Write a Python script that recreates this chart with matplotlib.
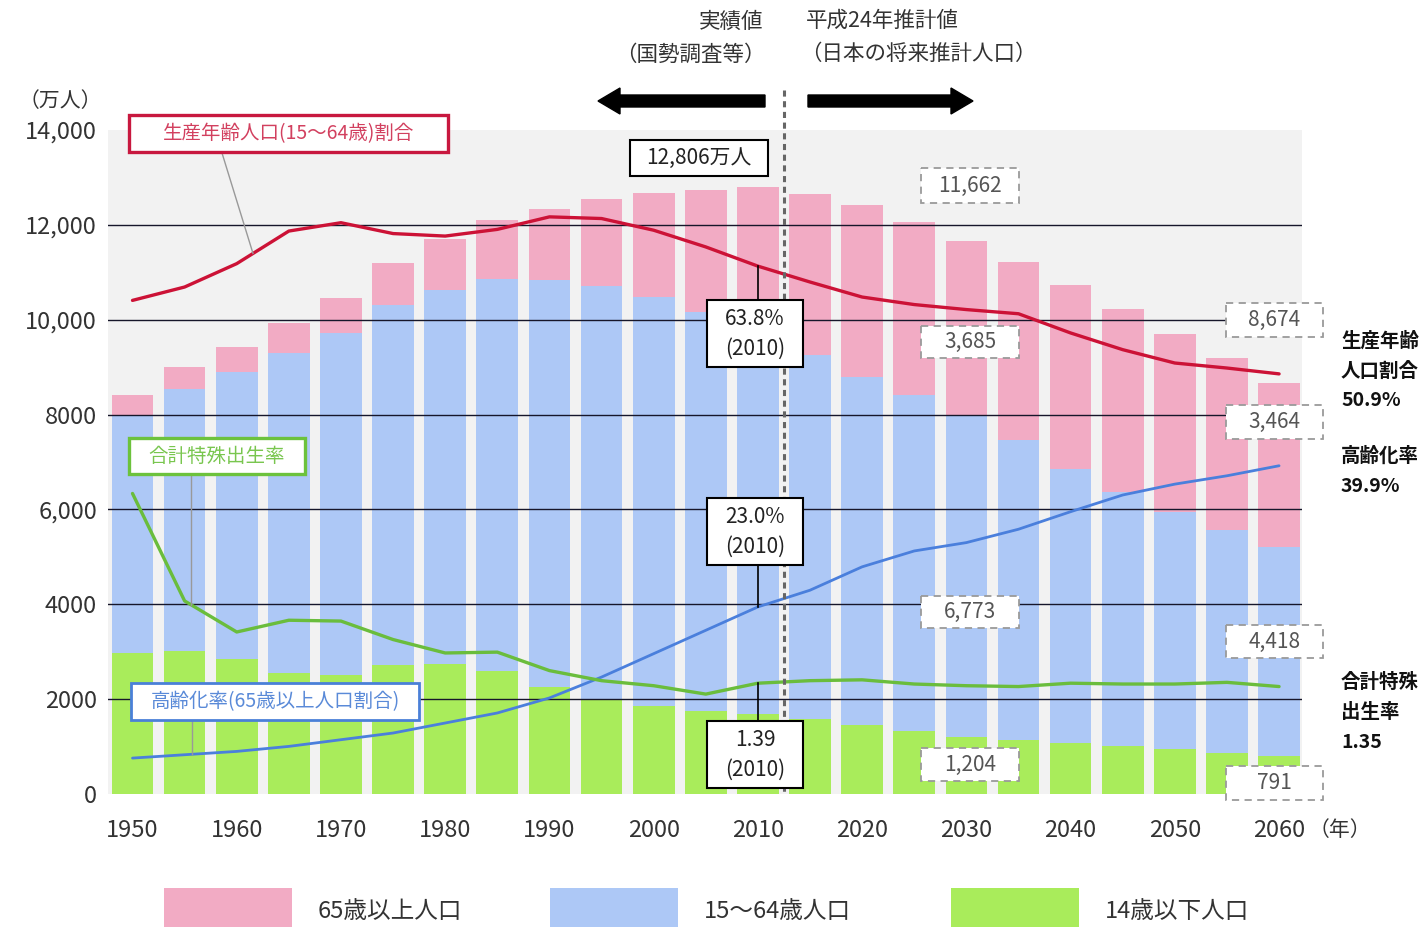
import matplotlib.pyplot as plt
import matplotlib.patches as mpatches
import numpy as np

plt.rcParams['font.family'] = ['Noto Sans CJK JP', 'DejaVu Sans']

# 人口（万人）
years = list(range(1950, 2061, 5))
pop_65 = [416, 479, 540, 624, 739, 887, 1065, 1247, 1493, 1828, 2204, 2576, 2948,
          3395, 3612, 3657, 3685, 3741, 3868, 3856, 3768, 3626, 3464]
pop_15_64 = [5017, 5517, 6047, 6744, 7212, 7581, 7883, 8251, 8590, 8716, 8622, 8409, 8173,
             7682, 7341, 7085, 6773, 6343, 5787, 5353, 5001, 4706, 4418]
pop_0_14 = [2979, 3012, 2843, 2553, 2515, 2722, 2751, 2603, 2249, 2001, 1847, 1752, 1685,
            1583, 1457, 1324, 1204, 1129, 1073, 1012, 939, 861, 791]

# 割合（%）と合計特殊出生率
working_ratio = [59.7, 61.3, 64.1, 68.0, 69.0, 67.7, 67.4, 68.2, 69.7, 69.5, 68.1, 66.1, 63.8,
                 61.9, 60.1, 59.2, 58.6, 58.1, 55.8, 53.8, 52.2, 51.6, 50.9]
aging_ratio = [4.9, 5.3, 5.7, 6.3, 7.1, 7.9, 9.1, 10.3, 12.1, 14.6, 17.4, 20.2, 23.0,
               25.0, 27.8, 29.7, 30.7, 32.3, 34.4, 36.4, 37.7, 38.7, 39.9]
fertility = [3.65, 2.37, 2.00, 2.14, 2.13, 1.91, 1.75, 1.76, 1.54, 1.42, 1.36, 1.26, 1.39,
             1.42, 1.43, 1.38, 1.36, 1.35, 1.39, 1.38, 1.38, 1.40, 1.35]

yticks = list(range(0, 14001, 2000))
ytick_labels = ['0', '2000', '4000', '6,000', '8000', '10,000', '12,000', '14,000']
xticks = list(range(1950, 2061, 10))

PINK = '#f2abc4'
BLUE = '#adc8f6'
GREEN = '#a9ec5b'
RED_LINE = '#cc1236'
BLUE_LINE = '#4a7fdc'
GREEN_LINE = '#6abd3c'
TXT = '#333333'

W, H = 1424, 927
fig = plt.figure(figsize=(W / 100, H / 100), dpi=100)
ax = fig.add_axes([108 / W, 1 - 794 / H, 1194 / W, 664 / H])
ax.set_facecolor('#f2f2f2')

bottom_mid = np.array(pop_0_14)
bottom_top = bottom_mid + np.array(pop_15_64)
ax.bar(years, pop_0_14, width=4.0, color=GREEN, zorder=1)
ax.bar(years, pop_15_64, width=4.0, bottom=bottom_mid, color=BLUE, zorder=1)
ax.bar(years, pop_65, width=4.0, bottom=bottom_top, color=PINK, zorder=1)

for v in yticks[1:-1]:
    ax.axhline(v, color='#16162a', lw=1.0, zorder=2)

ax.set_xlim(1947.65, 2062.2)
ax.set_ylim(0, 14000)
ax.set_yticks(yticks)
ax.set_yticklabels(ytick_labels)
ax.set_xticks(xticks)
ax.set_xticklabels([str(x) for x in xticks])
ax.tick_params(axis='y', length=0, pad=8, labelsize=17, labelcolor=TXT)
ax.tick_params(axis='x', length=0, pad=18, labelsize=17, labelcolor=TXT)
for s in ax.spines.values():
    s.set_visible(False)

# 割合の線と出生率の線は目盛なしの別スケール
ax_pct = ax.twinx()
ax_pct.set_ylim(0.6, 80.1)
ax_tfr = ax.twinx()
ax_tfr.set_ylim(0.07, 7.98)
for a in (ax_pct, ax_tfr):
    a.axis('off')

kw = dict(solid_joinstyle='round', solid_capstyle='round', zorder=3)
ax_pct.plot(years, working_ratio, color=RED_LINE, lw=2.4, **kw)
ax_pct.plot(years, aging_ratio, color=BLUE_LINE, lw=2.0, **kw)
ax_tfr.plot(years, fertility, color=GREEN_LINE, lw=2.4, **kw)

# 注記用のレイヤー（ピクセル座標、y は下向き）
lay = fig.add_axes([0, 0, 1, 1], zorder=10)
lay.set_xlim(0, W)
lay.set_ylim(H, 0)
lay.axis('off')


def to_px(axis, x, y):
    dx, dy = axis.transData.transform((x, y))
    return dx, H - dy


def px_to_year(px):
    return ax.transData.inverted().transform((px, 0))[0]


def box(x0, y0, x1, y1, text, dashed=False, ec='black', tc='#222222', fs=15, lw=1.5):
    ls = (0, (4, 3)) if dashed else '-'
    lay.add_patch(mpatches.Rectangle((x0, y0), x1 - x0, y1 - y0, fc='white', ec=ec,
                                     lw=lw, ls=ls, zorder=5))
    lay.text((x0 + x1) / 2, (y0 + y1) / 2, text, ha='center', va='center', fontsize=fs,
             color=tc, linespacing=1.45, zorder=6)


# 実績値／推計値の境界
div_x, _ = to_px(ax, 2012.5, 0)
lay.plot([div_x, div_x], [90, 794], color='#666666', lw=2.2, ls=(0, (2, 1.5)), zorder=2)

lay.add_patch(mpatches.FancyArrow(765, 101, -167, 0, width=12, head_width=26,
                                  head_length=22, length_includes_head=True, color='black'))
lay.add_patch(mpatches.FancyArrow(808, 101, 165, 0, width=12, head_width=26,
                                  head_length=22, length_includes_head=True, color='black'))
lay.text(763, 22, '実績値', ha='right', va='center', fontsize=15.5, color=TXT)
lay.text(766, 55, '（国勢調査等）', ha='right', va='center', fontsize=15.5, color=TXT)
lay.text(806, 21, '平成24年推計値', ha='left', va='center', fontsize=15.5, color=TXT)
lay.text(800, 54, '（日本の将来推計人口）', ha='left', va='center', fontsize=15.5, color=TXT)

lay.text(60, 101, '（万人）', ha='center', va='center', fontsize=15, color=TXT)
lay.text(1340, 830, '（年）', ha='center', va='center', fontsize=15, color=TXT)

# 2010年の値への引き出し線
i2010 = years.index(2010)
px, py = to_px(ax_pct, 2010, working_ratio[i2010])
lay.plot([px, px], [py, 300], color='black', lw=1.2, zorder=4)
px, py = to_px(ax_pct, 2010, aging_ratio[i2010])
lay.plot([px, px], [565, py], color='black', lw=1.2, zorder=4)
px, py = to_px(ax_tfr, 2010, fertility[i2010])
lay.plot([px, px], [py, 721], color='black', lw=1.2, zorder=4)

box(630, 140, 768, 176, f'{bottom_top[i2010] + pop_65[i2010]:,}万人')
box(707, 300, 803, 367, f'{working_ratio[i2010]:.1f}%\n(2010)')
box(707, 498, 803, 565, f'{aging_ratio[i2010]:.1f}%\n(2010)')
box(707, 721, 803, 788, f'{fertility[i2010]:.2f}\n(2010)')

# 2030年・2060年の値
gray = '#9a9a9a'
for yr, x0, x1 in ((2030, 921, 1019), (2060, 1226, 1323)):
    i = years.index(yr)
    total = pop_0_14[i] + pop_15_64[i] + pop_65[i]
    rows = ((168, 203, total), (326, 358, pop_65[i]), (596, 628, pop_15_64[i]),
            (748, 781, pop_0_14[i])) if yr == 2030 else \
           ((303, 337, total + 1), (405, 439, pop_65[i]), (625, 658, pop_15_64[i]),
            (766, 800, pop_0_14[i]))
    for y0, y1, v in rows:
        box(x0, y0, x1, y1, f'{v:,}', dashed=True, ec=gray, tc='#555555', fs=15, lw=1.3)

# 系列名の枠と引き出し線
yr = px_to_year(253)
lx, ly = to_px(ax_pct, yr, np.interp(yr, years, working_ratio))
lay.plot([222, lx], [153, ly], color='#999999', lw=1.0, zorder=4)
yr = px_to_year(191)
lx, ly = to_px(ax_tfr, yr, np.interp(yr, years, fertility))
lay.plot([lx, lx], [474, ly], color='#999999', lw=1.0, zorder=4)
yr = px_to_year(192)
lx, ly = to_px(ax_pct, yr, np.interp(yr, years, aging_ratio))
lay.plot([lx, lx], [720, ly], color='#999999', lw=1.0, zorder=4)

box(129, 115, 448, 152, '生産年齢人口(15〜64歳)割合', ec='#c8183f', tc='#d2405f', fs=14, lw=2.4)
box(129, 438, 305, 474, '合計特殊出生率', ec='#6cc23c', tc='#79c64f', fs=14, lw=2.4)
box(131, 683, 419, 720, '高齢化率(65歳以上人口割合)', ec='#4a80d8', tc='#5a8ad8', fs=14, lw=2.0)

# 右側の2060年の値
right = [(341, '生産年齢'), (371, '人口割合'), (401, f'{working_ratio[-1]:.1f}%'),
         (456, '高齢化率'), (486, f'{aging_ratio[-1]:.1f}%'),
         (682, '合計特殊'), (712, '出生率'), (742, f'{fertility[-1]:.2f}')]
for y, t in right:
    lay.text(1341, y, t, ha='left', va='center', fontsize=14, fontweight='bold', color='#111111')

# 凡例
for x0, c, label in ((164, PINK, '65歳以上人口'), (550, BLUE, '15〜64歳人口'),
                     (951, GREEN, '14歳以下人口')):
    lay.add_patch(mpatches.Rectangle((x0, 888), 128, 40, fc=c, ec='none'))
    lay.text(x0 + 154, 911, label, ha='left', va='center', fontsize=17, color=TXT)

fig.savefig('out.png', dpi=100)
